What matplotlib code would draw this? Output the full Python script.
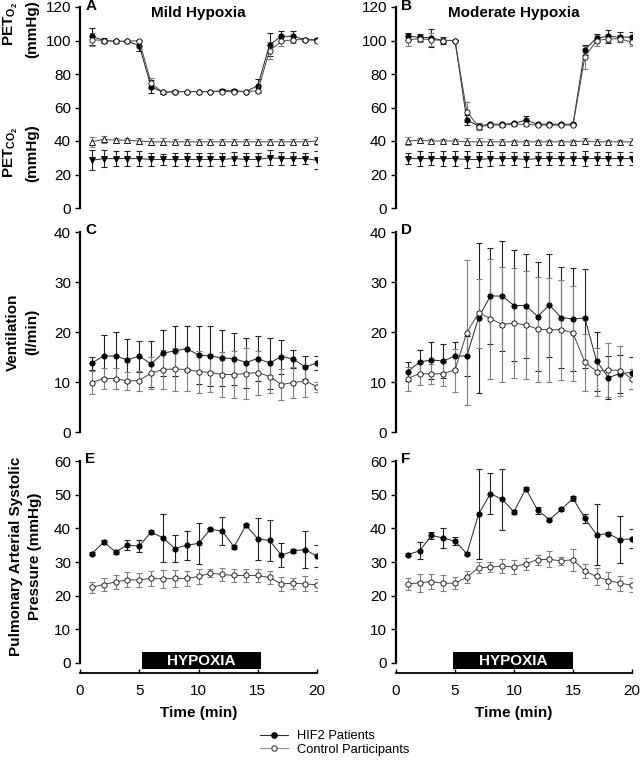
import matplotlib
matplotlib.use('Agg')
import matplotlib.pyplot as plt
import matplotlib.transforms as mtransforms
from matplotlib.lines import Line2D
from matplotlib.patches import Rectangle
import numpy as np

plt.rcParams['font.family'] = ['Liberation Sans', 'DejaVu Sans']
plt.rcParams['mathtext.fontset'] = 'custom'
plt.rcParams['mathtext.rm'] = 'Liberation Sans'
plt.rcParams['mathtext.bf'] = 'Liberation Sans:bold'
plt.rcParams['mathtext.it'] = 'Liberation Sans:italic'

# ---------------- data ----------------
time = list(range(1, 21))

# Panel A (mild hypoxia) end-tidal O2 / CO2
A_o2_hif = [102.5, 100, 99.5, 99.5, 97, 72.5, 69, 69.5, 69.5, 69.5, 69.5, 70, 70, 69.5, 73, 97.5, 102.5, 102.5, 100.5, 100.5]
A_o2_hif_err = [5, 1.5, 1, 0.5, 3.5, 4, 1, 1, 0.5, 0.5, 0.5, 1, 1, 0.5, 4, 7, 3, 3, 1, 1]
A_o2_ctl = [100.5, 100, 99.5, 99.5, 100, 74.5, 69, 69.5, 69.5, 69.5, 69.5, 69.5, 69.5, 69.5, 70, 94, 99.5, 100.5, 100.5, 100]
A_o2_ctl_err = [4, 1, 1, 0.5, 0.5, 3, 1, 1, 0.5, 0.5, 0.5, 0.5, 0.5, 0.5, 1.5, 5, 2.5, 2, 1, 1]
A_co2_hif = [28.5, 29.5, 29.5, 29.5, 29.5, 29, 29, 29, 29, 29, 29, 29, 29.5, 29, 29, 30, 29.5, 29.5, 29.5, 28.5]
A_co2_hif_err = [6, 5, 4.5, 4.5, 4.5, 4, 3.5, 4, 4, 4, 4, 4, 4, 4, 4, 4.5, 4, 4, 3.5, 5.5]
A_co2_ctl = [39.5, 41, 40.5, 40.5, 40, 39.5, 39.5, 39.5, 39.5, 39.5, 39.5, 39.5, 39.5, 39.5, 39.5, 39.5, 39.5, 39.5, 39.5, 40]
A_co2_ctl_err = [3, 2, 1.5, 1.5, 1.5, 2, 2, 1.5, 1.5, 1.5, 1.5, 1.5, 1.5, 1.5, 1.5, 1.5, 1.5, 1.5, 1.5, 2.5]

# Panel B (moderate hypoxia)
B_o2_hif = [102.5, 102, 101.5, 100, 100, 52.5, 49, 50, 50, 50.5, 52.5, 50, 50, 50, 50, 94.5, 101.5, 102.5, 102, 102]
B_o2_hif_err = [2, 2, 5.5, 2, 0.5, 3, 2, 1, 1, 1, 2.5, 0.5, 0.5, 0.5, 0.5, 3, 2.5, 4, 3, 3]
B_o2_ctl = [100.5, 101, 100.5, 100, 100, 57.5, 48.5, 49.5, 49.5, 50, 50, 49.5, 49.5, 49.5, 49.5, 90, 100, 101, 101, 99]
B_o2_ctl_err = [3.5, 2, 4, 1.5, 0.5, 6, 2, 1, 1, 1, 1, 0.5, 0.5, 0.5, 0.5, 7, 3, 2, 2, 2]
B_co2_hif = [29.5, 29.5, 29.5, 29.5, 29.5, 29, 29, 29.5, 29.5, 29.5, 29, 29.5, 29.5, 29.5, 29.5, 29.5, 29.5, 29.5, 29.5, 29.5]
B_co2_hif_err = [3.5, 4.5, 4, 4.5, 4.5, 5, 4.5, 4.5, 4, 4, 4.5, 4, 4, 4, 4, 4.5, 4, 4, 4, 4]
B_co2_ctl = [40, 40.5, 40, 40, 40, 39.5, 39.5, 39.5, 39.5, 39.5, 39.5, 39.5, 39.5, 39.5, 39.5, 40, 39.5, 39.5, 39.5, 39.5]
B_co2_ctl_err = [2.5, 1.5, 1, 1, 1, 2, 2, 1.5, 1.5, 1, 1, 1, 1, 1, 1, 2, 1.5, 1, 1, 2]

# Panel C (ventilation, mild)
C_hif = [13.8, 15.2, 15.2, 14.4, 15.2, 13.6, 15.8, 16.2, 16.7, 15.4, 15.2, 14.8, 14.7, 13.9, 14.7, 13.8, 15.1, 14.6, 13.0, 13.8]
C_hif_err = [1.3, 4.3, 4.8, 4.3, 3.1, 4.6, 4.6, 5.0, 4.5, 5.8, 6.0, 5.6, 5.2, 5.0, 4.5, 5.1, 3.4, 1.8, 2.3, 1.4]
C_ctl = [9.9, 10.7, 10.7, 10.2, 10.3, 11.8, 12.5, 12.6, 12.5, 12.1, 11.9, 11.5, 11.5, 11.7, 11.9, 11.1, 9.5, 9.9, 10.2, 9.1]
C_ctl_err = [2.3, 2.1, 2.1, 1.8, 2.0, 3.2, 3.9, 4.3, 4.2, 4.2, 3.8, 4.5, 4.7, 5.1, 4.4, 3.2, 3.1, 3.1, 3.2, 1.0]

# Panel D (ventilation, moderate)
D_hif = [12.1, 14.0, 14.4, 14.2, 15.2, 15.2, 22.9, 27.2, 27.2, 25.3, 25.3, 23.1, 25.4, 22.9, 22.6, 22.8, 14.2, 10.9, 11.7, 11.9]
D_hif_err = [1.9, 2.4, 3.7, 3.4, 2.8, 4.0, 15.0, 9.6, 11.0, 11.1, 10.4, 10.9, 10.3, 10.1, 10.3, 9.9, 5.9, 4.3, 3.8, 3.2]
D_ctl = [10.7, 11.7, 11.6, 11.7, 12.4, 19.9, 23.8, 22.7, 21.5, 21.8, 21.4, 20.6, 20.4, 20.5, 19.8, 14.0, 12.1, 12.4, 12.3, 10.6]
D_ctl_err = [2.4, 2.2, 2.0, 2.4, 4.3, 14.5, 6.9, 12.0, 11.5, 11.0, 10.8, 10.5, 10.4, 10.0, 9.5, 5.7, 4.8, 5.4, 5.0, 2.0]

# Panel E (PASP, mild)
E_hif = [32.5, 35.9, 33.0, 35.0, 34.7, 38.9, 37.2, 34.0, 35.0, 35.5, 39.7, 39.2, 34.5, 40.9, 36.9, 36.4, 32.0, 33.3, 33.7, 31.7]
E_hif_err = [0.5, 0.5, 0.5, 1.5, 1.7, 0.5, 7.2, 4.0, 4.3, 6.0, 0.5, 4.2, 0.5, 0.5, 6.2, 6.0, 3.5, 0.5, 5.5, 3.3]
E_ctl = [22.5, 23.3, 24.1, 24.7, 24.7, 25.1, 25.0, 25.1, 25.1, 25.7, 26.7, 26.3, 26.0, 26.0, 26.0, 25.4, 23.5, 23.7, 23.5, 23.2]
E_ctl_err = [1.7, 1.8, 2.0, 2.2, 2.0, 2.2, 2.6, 2.6, 2.1, 2.3, 1.3, 2.0, 2.0, 1.8, 1.8, 2.0, 2.0, 1.6, 2.2, 1.8]

# Panel F (PASP, moderate)
F_hif = [32.2, 33.3, 37.9, 37.1, 36.2, 32.5, 44.2, 50.3, 48.6, 44.9, 51.8, 45.4, 42.6, 45.6, 48.9, 43.0, 38.1, 38.4, 36.6, 36.9]
F_hif_err = [0.5, 2.5, 1.1, 3.0, 1.2, 0.5, 13.3, 6.0, 9.1, 0.5, 0.5, 1.0, 0.5, 0.5, 0.8, 1.3, 9.0, 0.5, 7.0, 2.8]
F_ctl = [23.5, 23.8, 24.2, 23.7, 23.7, 25.5, 28.3, 28.5, 28.8, 28.5, 29.5, 30.7, 30.8, 30.3, 30.7, 27.3, 25.7, 24.5, 23.7, 23.1]
F_ctl_err = [1.8, 2.7, 2.3, 2.3, 1.7, 1.7, 1.7, 1.5, 2.0, 2.2, 1.8, 1.5, 2.4, 1.2, 3.3, 2.1, 2.4, 2.5, 2.2, 2.0]

titles = ['Mild Hypoxia', 'Moderate Hypoxia']
letters = ['A', 'B', 'C', 'D', 'E', 'F']
legend_labels = ['HIF2 Patients', 'Control Participants']

# ---------------- figure ----------------
fig = plt.figure(figsize=(6.4, 7.61), dpi=100)

W_PX, H_PX = 640, 761
cols_px = [(80, 317), (396, 632)]
rows_px = [(7, 208), (232, 432), (461, 663)]


def make_ax(r, c):
    x0, x1 = cols_px[c]
    y0, y1 = rows_px[r]
    return fig.add_axes([x0 / W_PX, 1 - y1 / H_PX, (x1 - x0) / W_PX, (y1 - y0) / H_PX])


HIF_LINE = '#303030'
CTL_LINE = '#505050'
HIF_ERR = '#202020'
CTL_ERR = '#808080'


def series(ax, y, err, filled, marker='o', ms=3.8):
    ax.errorbar(time, y, yerr=err, fmt='none', ecolor=HIF_ERR if filled else CTL_ERR,
                elinewidth=0.8, capsize=2.2, capthick=0.8, zorder=2)
    ax.plot(time, y, color=HIF_LINE if filled else CTL_LINE, lw=0.75, marker=marker, ms=ms,
            mfc='black' if filled else 'white', mec='black', mew=0.6, zorder=3 if filled else 4)


def style(ax, ymax, step, bottom_row):
    ax.set_xlim(0, 20)
    ax.set_ylim(0, ymax)
    ax.set_yticks(np.arange(0, ymax + 0.1, step))
    for s in ['top', 'right']:
        ax.spines[s].set_visible(False)
    ax.spines['left'].set_linewidth(1.6)
    ax.tick_params(axis='y', direction='out', length=3.5, width=1.0, labelsize=11, pad=3)
    ax.patch.set_alpha(0)
    if bottom_row:
        ax.spines['bottom'].set_position(('outward', 7.2))
        ax.spines['bottom'].set_linewidth(1.3)
        ax.set_xticks([0, 5, 10, 15, 20])
        ax.tick_params(axis='x', direction='in', length=3, width=1.0, labelsize=11, pad=8)
        ax.set_xlabel('Time (min)', fontsize=11, fontweight='bold', labelpad=6)
    else:
        ax.spines['bottom'].set_visible(False)
        ax.set_xticks([])


panels = [
    [(A_o2_hif, A_o2_hif_err, A_o2_ctl, A_o2_ctl_err, A_co2_hif, A_co2_hif_err, A_co2_ctl, A_co2_ctl_err),
     (B_o2_hif, B_o2_hif_err, B_o2_ctl, B_o2_ctl_err, B_co2_hif, B_co2_hif_err, B_co2_ctl, B_co2_ctl_err)],
    [(C_hif, C_hif_err, C_ctl, C_ctl_err), (D_hif, D_hif_err, D_ctl, D_ctl_err)],
    [(E_hif, E_hif_err, E_ctl, E_ctl_err), (F_hif, F_hif_err, F_ctl, F_ctl_err)],
]
limits = [(120, 20), (40, 10), (60, 10)]
hyp_span = [(5.2, 15.25), (4.85, 15.0)]

k = 0
for r in range(3):
    for c in range(2):
        ax = make_ax(r, c)
        d = panels[r][c]
        if r == 0:
            series(ax, d[4], d[5], True, marker='v', ms=4.0)
            series(ax, d[6], d[7], False, marker='^', ms=4.0)
            series(ax, d[0], d[1], True)
            series(ax, d[2], d[3], False)
            ax.text(0.5, 0.972, titles[c], transform=ax.transAxes, ha='center', va='center',
                    fontsize=11, fontweight='bold')
        else:
            series(ax, d[0], d[1], True)
            series(ax, d[2], d[3], False)
        style(ax, limits[r][0], limits[r][1], r == 2)
        ax.text(0.022, 1.003 if r == 0 else 1.01, letters[k], transform=ax.transAxes,
                ha='left', va='center', fontsize=11, fontweight='bold')
        if r == 2:
            trans = mtransforms.blended_transform_factory(ax.transData, ax.transAxes)
            x0, x1 = hyp_span[c]
            ax.add_patch(Rectangle((x0, -0.032), x1 - x0, 0.084, transform=trans,
                                   facecolor='black', edgecolor='none', clip_on=False, zorder=5))
            ax.text((x0 + x1) / 2, 0.01, 'HYPOXIA', transform=trans, ha='center', va='center',
                    color='white', fontsize=11, fontweight='bold', zorder=6, clip_on=False)
        k += 1

# y-axis labels
def ylab(xpx, ypx, s):
    fig.text(xpx / W_PX, 1 - ypx / H_PX, s, rotation=90, ha='center', va='center',
             fontsize=11, fontweight='bold')

ylab(11, 24, r'$\mathbf{PET}_{\mathbf{O_2}}$')
ylab(32, 29, '(mmHg)')
ylab(11, 152, r'$\mathbf{PET}_{\mathbf{CO_2}}$')
ylab(32, 153, '(mmHg)')
ylab(13, 332, 'Ventilation')
ylab(32, 332, '(l/min)')
ylab(16, 556, 'Pulmonary Arterial Systolic')
ylab(35, 556, 'Pressure (mmHg)')

# legend
handles = [Line2D([], [], color=HIF_LINE, lw=0.8, marker='o', ms=3.8, mfc='black', mec='black'),
           Line2D([], [], color='#909090', lw=0.8, marker='o', ms=3.8, mfc='white', mec='#606060')]
fig.legend(handles, legend_labels, loc='upper left', bbox_to_anchor=(260 / W_PX, 1 - 730 / H_PX),
           frameon=False, borderpad=0, borderaxespad=0, handlelength=2.2, handletextpad=0.7,
           labelspacing=0.12, fontsize=9.3)

fig.savefig('out.png', dpi=100)
